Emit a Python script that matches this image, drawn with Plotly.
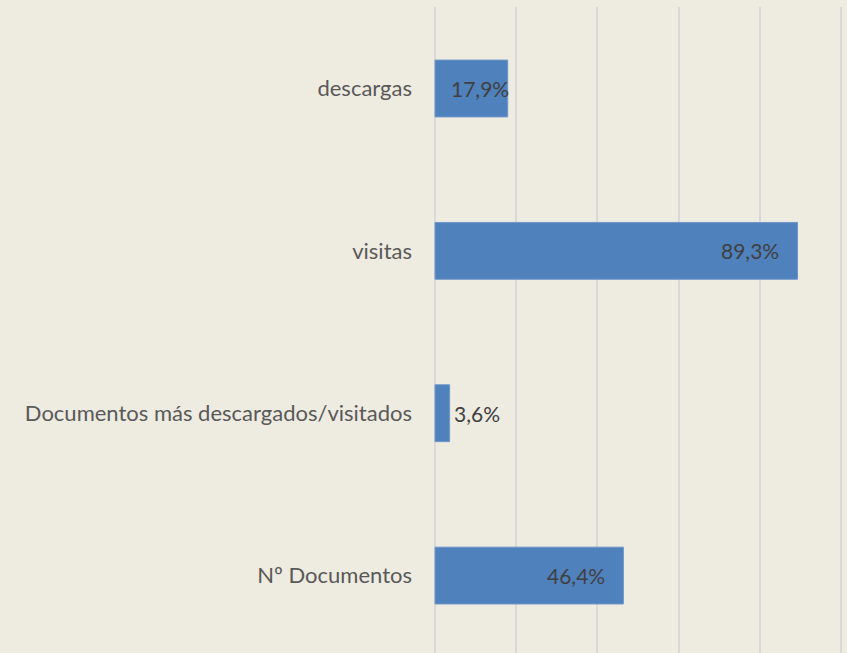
import plotly.graph_objects as go

categories = ["Nº Documentos", "Documentos más descargados/visitados", "visitas", "descargas"]
values = [46.4, 3.6, 89.3, 17.9]
x_ticks = [0, 20, 40, 60, 80, 100]

# style: horizontal pixel offset of each value label relative to bar end
label_xshift = [-16, 2, -17, 3]
label_anchor = ["right", "left", "right", "right"]

FONT = "Lato"
fig = go.Figure()
fig.add_trace(go.Bar(
    y=categories, x=values, orientation="h",
    marker=dict(color="#4F81BD", line=dict(color="#6F96C8", width=1)),
    width=0.35, hoverinfo="skip",
))

for c, v, dx, anc in zip(categories, values, label_xshift, label_anchor):
    fig.add_annotation(
        x=v, y=c, xref="x", yref="y", text=f"{v:.1f}%".replace(".", ","),
        showarrow=False, xanchor=anc, xshift=dx,
        font=dict(family=FONT, size=21, color="#404040"),
    )

fig.update_layout(
    width=847, height=653,
    paper_bgcolor="#EEEBE0", plot_bgcolor="#EEEBE0",
    margin=dict(l=433, r=4, t=7, b=0),
    showlegend=False,
    xaxis=dict(range=[-0.5, 100.5], tickvals=x_ticks, showticklabels=False,
               showgrid=True, gridcolor="#D9D9D9", gridwidth=2,
               zeroline=True, zerolinecolor="#D9D9D9", zerolinewidth=2,
               showline=False, fixedrange=True),
    yaxis=dict(type="category", categoryorder="array", categoryarray=categories,
               range=[-0.477, 3.502], showgrid=False, zeroline=False, showline=False,
               ticks="", ticklabelstandoff=20, fixedrange=True,
               tickfont=dict(family=FONT, size=22, color="#595959")),
)

fig.write_html("out.html", config={"displayModeBar": False},
               post_script="document.body.style.margin='0';document.body.style.background='#EEEBE0';")
